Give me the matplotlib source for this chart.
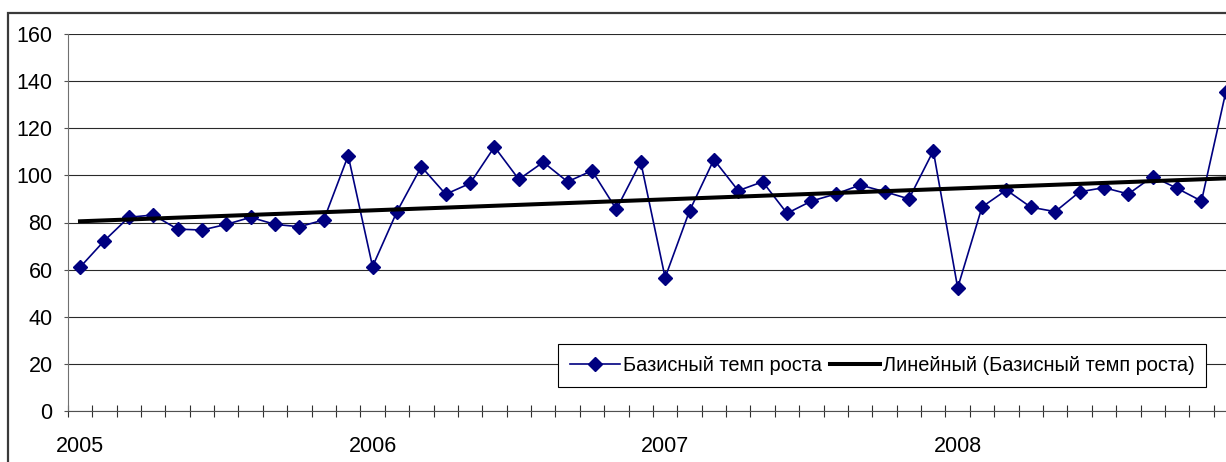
import matplotlib
matplotlib.use("Agg")
import matplotlib.pyplot as plt
import numpy as np
from matplotlib.patches import Rectangle

plt.rcParams['font.family'] = ['Liberation Sans', 'DejaVu Sans']

years = ['2005', '2006', '2007', '2008']
values = [61.0, 72.3, 82.2, 83.2, 77.2, 76.8, 79.2, 82.2, 79.2, 78.2, 81.1, 108.4,
          61.3, 84.6, 103.7, 92.0, 96.6, 112.1, 98.3, 105.6, 97.3, 102.0, 85.6, 105.7,
          56.6, 84.9, 106.7, 93.5, 97.3, 83.9, 89.1, 92.1, 95.9, 93.1, 90.0, 110.4,
          52.3, 86.6, 93.8, 86.5, 84.6, 93.0, 94.8, 92.1, 99.5, 94.5, 89.1, 135.5]
yticks = [0, 20, 40, 60, 80, 100, 120, 140, 160]
series_label = 'Базисный темп роста'
trend_label = 'Линейный (Базисный темп роста)'

W, H = 1226, 462
fig = plt.figure(figsize=(W / 100, H / 100), dpi=100)

n = len(values)
x = np.arange(n)
step = 24.38
left_px = 80 - 0.5 * step
right_px = 80 + (n - 0.5) * step
top_px, bot_px = 34, 411
ax = fig.add_axes([left_px / W, 1 - bot_px / H, (right_px - left_px) / W, (bot_px - top_px) / H])

# outer frame
fig.patches.append(Rectangle((8 / W, -0.1), 1.2, 1 - 13 / H + 0.1, transform=fig.transFigure,
                             fill=False, edgecolor='#3a3a3a', linewidth=1.6, zorder=0))

ax.set_ylim(0, 160)
ax.set_xlim(-0.5, n - 0.5)
ax.set_yticks(yticks)
ax.yaxis.grid(True, color='#2a2a2a', linewidth=0.8)
ax.set_axisbelow(True)

ax.plot(x, values, color='#000080', linewidth=1.2, marker='D', markersize=7.6,
        markerfacecolor='#000080', markeredgecolor='#000080', label=series_label,
        zorder=3, clip_on=False)
coef = np.polyfit(x, values, 1)
ax.plot(x, np.polyval(coef, x), color='black', linewidth=2.9, label=trend_label, zorder=4)

for s in ['top', 'right']:
    ax.spines[s].set_visible(False)
ax.spines['left'].set_color('#707070')
ax.spines['bottom'].set_color('#505050')

ax.set_xticks(np.arange(-0.5, n, 1.0))
ax.set_xticklabels([])
ax.tick_params(axis='x', which='major', direction='inout', length=8, width=0.8, color='#303030')
ax.set_xticks([0, 12, 24, 36], minor=True)
ax.set_xticklabels(years, minor=True, fontsize=15.5)
ax.tick_params(axis='x', which='minor', length=0, pad=18)
ax.tick_params(axis='y', direction='out', length=3, width=0.8, color='#505050', labelsize=15.5, pad=8)

leg = ax.legend(loc='center', bbox_to_anchor=(882 / W, 1 - 365.5 / H), bbox_transform=fig.transFigure,
                ncol=2, fontsize=14.4, frameon=True, fancybox=False, framealpha=1,
                edgecolor='black', handlelength=2.5, handletextpad=0.15, columnspacing=0.4,
                borderpad=0.6, borderaxespad=0)
leg.get_frame().set_linewidth(0.8)

fig.savefig('out.png', dpi=100)
